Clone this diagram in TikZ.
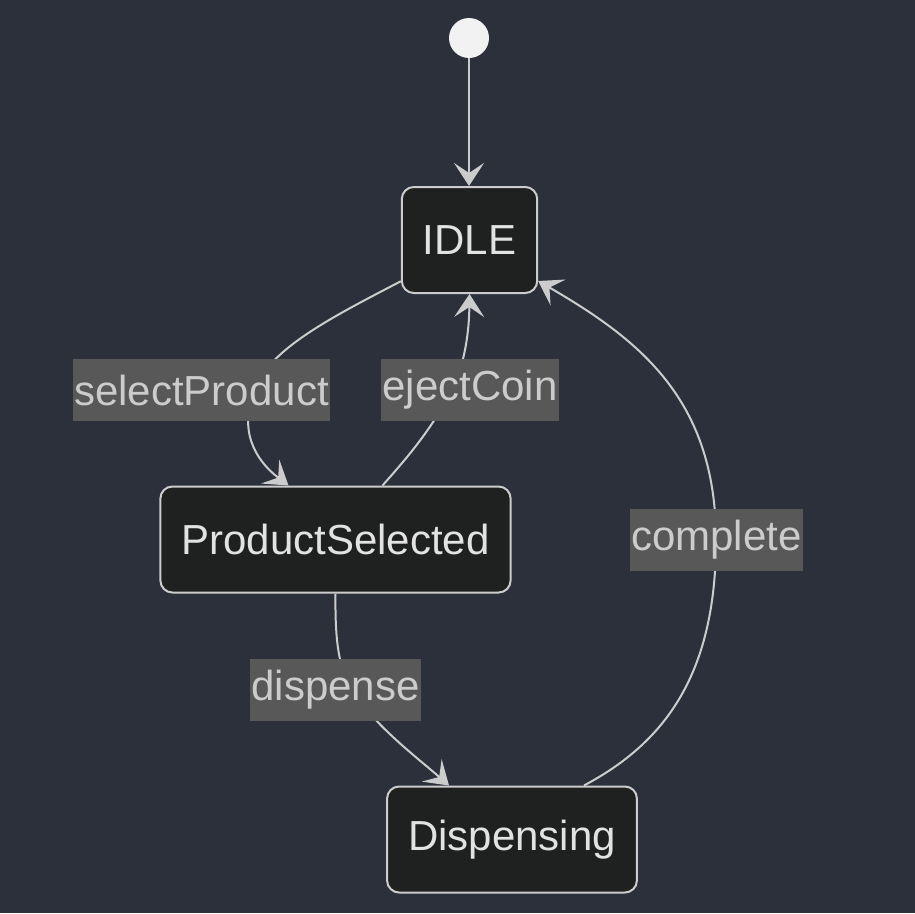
\documentclass[tikz,border=0pt]{standalone}
\usepackage{fontspec}
\setmainfont{Liberation Sans}
\usepackage{tikz}
\usetikzlibrary{arrows.meta}
\definecolor{bgdark}{RGB}{43, 48, 59}
\definecolor{statefill}{RGB}{31, 32, 32}
\definecolor{lineclr}{RGB}{204, 204, 204}
\definecolor{lblfill}{RGB}{88, 88, 88}
\definecolor{statetext}{RGB}{226, 226, 226}

\begin{document}
\begin{tikzpicture}[x=1pt, y=-1pt,
    state/.style={rectangle, draw=lineclr, line width=2pt, rounded corners=12pt, fill=statefill, text=statetext, minimum height=106pt, inner xsep=21pt, font=\fontsize{42}{50}\selectfont},
    lbl/.style={rectangle, fill=lblfill, text=lineclr, minimum height=62pt, inner xsep=1pt, font=\fontsize{42}{50}\selectfont},
    arrow/.style={-{Stealth[length=23pt, width=30pt, inset=10pt]}, draw=lineclr, line width=2pt}]
    \fill[bgdark] (0,0) rectangle (915,913);
    \useasboundingbox (0,0) rectangle (915,913);
    \node[circle, fill=white!95!black, minimum size=40pt, inner sep=0pt] (start) at (469,38) {};
    \node[state] (idle) at (469.5,240) {IDLE};
    \node[state] (prod) at (335.5,539.5) {ProductSelected};
    \node[state] (disp) at (512,839.5) {Dispensing};
    \draw[arrow] (start) -- (start |- idle.north);
    \draw[arrow] (idle.211) .. controls (330,318) and (268,350) .. (255,390)
        .. controls (238,430) and (255,460) .. ([xshift=-47pt]prod.north);
    \draw[arrow] ([xshift=47pt]prod.north) .. controls (405,460) and (430,432) .. (452,390)
        .. controls (462,370) and (469,340) .. (idle.south);
    \draw[arrow] (prod.south) .. controls (335,640) and (338,670) .. (355,695)
        .. controls (380,730) and (420,760) .. ([xshift=-63pt]disp.north);
    \draw[arrow] ([xshift=72pt]disp.north) .. controls (660,745) and (716,680) .. (716,540)
        .. controls (716,400) and (640,340) .. ([yshift=-41pt]idle.east);
    % transition labels
    \node[lbl] (selLbl) at (201.5,390) {selectProduct};
    \node[lbl] (ejectLbl) at (470,390) {ejectCoin};
    \node[lbl] (dispLbl) at (335.5,690) {dispense};
    \node[lbl] (doneLbl) at (716.5,540) {complete};
\end{tikzpicture}
\end{document}
